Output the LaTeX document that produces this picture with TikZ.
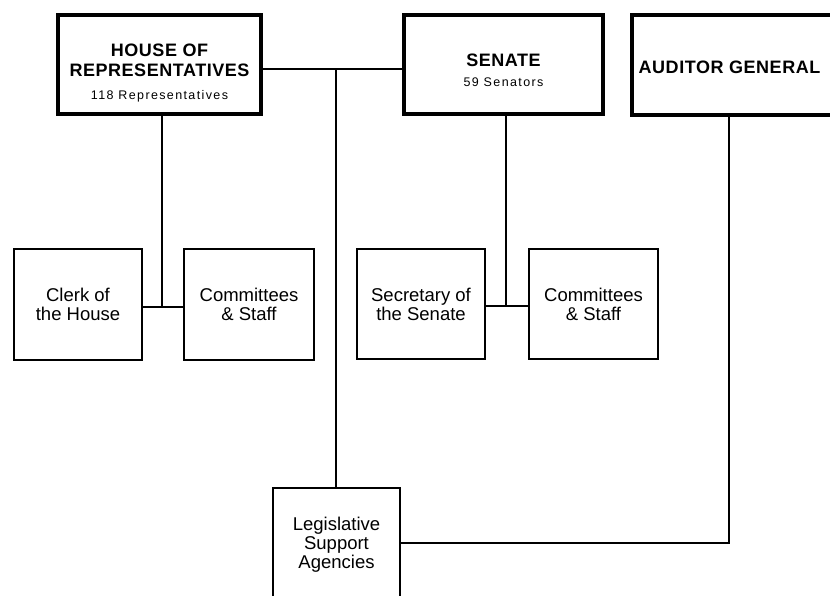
\documentclass[tikz,border=0pt]{standalone}
\usepackage{fontspec}
\setmainfont{Liberation Sans}
\newcommand\bigtitle{\fontsize{18}{20}\selectfont\bfseries\addfontfeature{LetterSpace=3}}
\newcommand\subtitle{\fontsize{12.5}{14}\selectfont\mdseries\addfontfeature{LetterSpace=11}}
\newcommand\boxtext{\fontsize{18.5}{19}\selectfont}
\begin{document}
\begin{tikzpicture}[x=1pt,y=-1pt,
  boxbase/.style={draw=black, rectangle, inner sep=0pt, outer sep=0pt},
  topbox/.style={boxbase, line width=4pt},
  lowbox/.style={boxbase, line width=2pt, align=center, font=\boxtext},
  toptext/.style={align=center, inner sep=0pt, font=\bigtitle},
  conn/.style={draw=black, line width=1.6pt},
  conn2/.style={draw=black, line width=2.4pt}]
\useasboundingbox (0,0) rectangle (830,596);
\clip (0,0) rectangle (830,596);
\fill[white] (0,0) rectangle (830,596);

% junction coordinates
\coordinate (J) at (336,69);
\coordinate (HJ) at (162,307);
\coordinate (SJ) at (506,306);
\coordinate (AJ) at (729,543);

% top boxes
\node[topbox, minimum width=203pt, minimum height=99pt] (house) at (159.5,64.5) {};
\node[topbox, minimum width=199pt, minimum height=99pt] (senate) at (503.5,64.5) {};
\node[topbox, minimum width=213pt, minimum height=100pt] (auditor) at (738.5,65) {};

\node[toptext] (houseT) at (159.5,73) {HOUSE OF\\REPRESENTATIVES\\[3pt]{\subtitle 118 Representatives}};
\node[toptext] (senateT) at (503.5,70.5) {SENATE\\{\subtitle 59 Senators}};
\node[toptext] (auditorT) at (729.5,67) {AUDITOR GENERAL};

% lower boxes
\node[lowbox, minimum width=128pt, minimum height=111pt] (clerk) at (78,304.5) {Clerk of\\the House};
\node[lowbox, minimum width=130pt, minimum height=111pt] (comL) at (249,304.5) {Committees\\\& Staff};
\node[lowbox, minimum width=128pt, minimum height=110pt] (secr) at (421,304) {Secretary of\\the Senate};
\node[lowbox, minimum width=129pt, minimum height=110pt] (comR) at (593.5,304) {Committees\\\& Staff};
\node[lowbox, minimum width=127pt, minimum height=114pt] (leg) at (336.5,545) {Legislative\\Support\\Agencies};

% connectors
\draw[conn] (house.east |- J) -- (senate.west |- J);
\draw[conn] (J) -- (J |- leg.north);
\draw[conn] (house.south -| HJ) -- (HJ);
\draw[conn] (clerk.east |- HJ) -- (comL.west |- HJ);
\draw[conn] (senate.south -| SJ) -- (SJ);
\draw[conn] (secr.east |- SJ) -- (comR.west |- SJ);
\draw[conn2] (auditor.south -| AJ) -- (AJ) -- (leg.east |- AJ);
\end{tikzpicture}
\end{document}
